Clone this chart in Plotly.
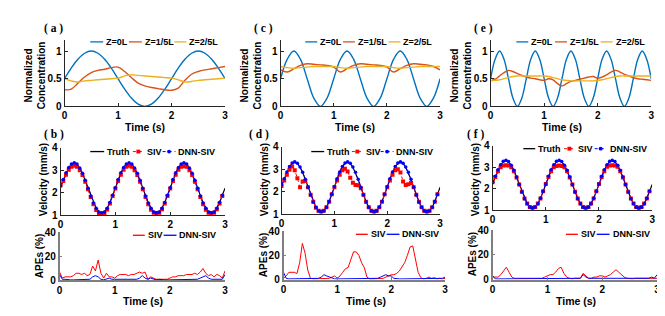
import plotly.graph_objects as go

W, H = 665, 316

# ---------------- data ----------------
# concentration panels
t_a = [round(i * 0.125, 4) for i in range(25)]
a_z0 = [0.5, 0.69, 0.85, 0.96, 1.0, 0.96, 0.85, 0.69, 0.5, 0.31, 0.15, 0.04, 0.0, 0.04, 0.15, 0.31,
        0.5, 0.69, 0.85, 0.96, 1.0, 0.96, 0.85, 0.69, 0.5]
a_z1 = [0.30, 0.31, 0.42, 0.53, 0.61, 0.65, 0.67, 0.70, 0.71, 0.63, 0.52, 0.42, 0.37, 0.34, 0.32, 0.30,
        0.29, 0.33, 0.47, 0.58, 0.63, 0.66, 0.68, 0.70, 0.72]
a_z2 = [0.50, 0.46, 0.44, 0.46, 0.47, 0.48, 0.49, 0.50, 0.51, 0.55, 0.57, 0.56, 0.55, 0.54, 0.53, 0.52,
        0.51, 0.48, 0.44, 0.45, 0.47, 0.48, 0.49, 0.50, 0.51]

t_c = [round(i * 0.125, 4) for i in range(25)]
c_z0 = [0.5, 0.85, 1.0, 0.85, 0.5, 0.15, 0.0, 0.15, 0.5, 0.85, 1.0, 0.85, 0.5, 0.15, 0.0, 0.15,
        0.5, 0.85, 1.0, 0.85, 0.5, 0.15, 0.0, 0.15, 0.5]
c_z1 = [0.66, 0.62, 0.68, 0.74, 0.77, 0.76, 0.75, 0.74, 0.71, 0.62, 0.68, 0.74, 0.77, 0.76, 0.75, 0.74,
        0.71, 0.62, 0.68, 0.74, 0.77, 0.76, 0.75, 0.72, 0.66]
c_z2 = [0.72, 0.70, 0.69, 0.70, 0.71, 0.72, 0.72, 0.72, 0.72, 0.70, 0.69, 0.70, 0.71, 0.72, 0.72, 0.72,
        0.72, 0.70, 0.69, 0.70, 0.71, 0.72, 0.72, 0.72, 0.72]

t_e = [round(i / 12, 4) for i in range(37)]
e_z0 = [0.5, 0.85, 1.0, 0.85, 0.5, 0.15, 0.0, 0.15, 0.5, 0.85, 1.0, 0.85, 0.5, 0.15, 0.0, 0.15,
        0.5, 0.85, 1.0, 0.85, 0.5, 0.15, 0.0, 0.15, 0.5, 0.85, 1.0, 0.85, 0.5, 0.15, 0.0, 0.15,
        0.5, 0.85, 1.0, 0.85, 0.5]
e_z1 = [0.51, 0.49, 0.55, 0.61, 0.65, 0.63, 0.59, 0.56, 0.53, 0.51, 0.50, 0.48, 0.47, 0.50, 0.48, 0.41,
        0.37, 0.41, 0.45, 0.47, 0.49, 0.51, 0.53, 0.54, 0.51, 0.53, 0.57, 0.62, 0.65, 0.62, 0.58, 0.55,
        0.52, 0.50, 0.49, 0.48, 0.47]
e_z2 = [0.46, 0.47, 0.48, 0.50, 0.52, 0.54, 0.55, 0.55, 0.55, 0.55, 0.55, 0.55, 0.55, 0.54, 0.52, 0.50,
        0.48, 0.47, 0.46, 0.46, 0.46, 0.46, 0.46, 0.46, 0.47, 0.48, 0.50, 0.52, 0.54, 0.55, 0.55, 0.55,
        0.55, 0.55, 0.55, 0.55, 0.55]

# velocity panels
t_v = [round(i * 0.05, 4) for i in range(61)]
truth = [2.25, 2.56, 2.86, 3.10, 3.25, 3.30, 3.25, 3.09, 2.85, 2.54, 2.20, 1.86, 1.55, 1.31, 1.15, 1.10, 1.15, 1.31, 1.55, 1.88,
         2.22, 2.56, 2.86, 3.10, 3.25, 3.30, 3.25, 3.09, 2.85, 2.54, 2.20, 1.86, 1.55, 1.31, 1.15, 1.10, 1.15, 1.31, 1.55, 1.88,
         2.22, 2.56, 2.86, 3.10, 3.25, 3.30, 3.25, 3.09, 2.85, 2.54, 2.20, 1.86, 1.55, 1.31, 1.15, 1.10, 1.15, 1.31, 1.55, 1.88,
         2.20]
b_siv = [2.33, 2.52, 2.80, 3.02, 3.15, 3.20, 3.15, 3.00, 2.78, 2.48, 2.15, 1.80, 1.48, 1.22, 1.05, 1.00, 1.08, 1.25, 1.52, 1.85,
         2.18, 2.52, 2.80, 3.02, 3.15, 3.20, 3.15, 3.00, 2.78, 2.48, 2.15, 1.80, 1.48, 1.24, 1.10, 1.08, 1.10, 1.26, 1.52, 1.85,
         2.18, 2.52, 2.80, 3.02, 3.15, 3.18, 3.15, 3.00, 2.78, 2.48, 2.15, 1.80, 1.48, 1.24, 1.10, 1.08, 1.10, 1.26, 1.52, 1.85]
b_dnn = [2.30, 2.58, 2.88, 3.12, 3.28, 3.33, 3.27, 3.10, 2.86, 2.55, 2.20, 1.85, 1.54, 1.30, 1.14, 1.10, 1.14, 1.30, 1.56, 1.88,
         2.22, 2.58, 2.88, 3.12, 3.28, 3.33, 3.27, 3.10, 2.86, 2.55, 2.20, 1.85, 1.54, 1.30, 1.14, 1.10, 1.14, 1.30, 1.56, 1.88,
         2.22, 2.58, 2.88, 3.12, 3.28, 3.33, 3.27, 3.10, 2.86, 2.55, 2.20, 1.85, 1.54, 1.30, 1.14, 1.10, 1.14, 1.30, 1.56, 1.88]
d_siv = [2.25, 2.50, 2.75, 2.98, 3.12, 2.95, 2.60, 2.20, 2.45, 2.48, 2.20, 1.86, 1.55, 1.28, 1.15, 1.12, 1.15, 1.31, 1.55, 1.88,
         2.20, 2.50, 2.75, 2.95, 3.02, 2.90, 2.62, 2.40, 2.30, 2.28, 2.15, 1.86, 1.55, 1.31, 1.15, 1.12, 1.15, 1.31, 1.55, 1.88,
         2.20, 2.50, 2.75, 2.95, 3.00, 2.85, 2.45, 2.30, 2.33, 2.38, 2.20, 1.86, 1.55, 1.31, 1.15, 1.12, 1.15, 1.31, 1.55, 1.88]
d_dnn = [2.30, 2.58, 2.88, 3.12, 3.28, 3.33, 3.27, 3.10, 2.86, 2.55, 2.20, 1.85, 1.54, 1.30, 1.14, 1.10, 1.14, 1.30, 1.56, 1.88,
         2.22, 2.58, 2.88, 3.12, 3.28, 3.33, 3.27, 3.10, 2.86, 2.55, 2.20, 1.85, 1.54, 1.30, 1.14, 1.10, 1.14, 1.30, 1.56, 1.88,
         2.22, 2.58, 2.88, 3.12, 3.28, 3.33, 3.27, 3.10, 2.86, 2.55, 2.20, 1.85, 1.54, 1.30, 1.14, 1.10, 1.14, 1.30, 1.56, 1.88]
f_siv = [2.30, 2.55, 2.82, 3.00, 3.08, 3.10, 3.08, 3.00, 2.82, 2.52, 2.20, 1.86, 1.55, 1.31, 1.15, 1.12, 1.15, 1.31, 1.55, 1.88,
         2.22, 2.55, 2.82, 3.00, 3.06, 3.08, 3.06, 3.00, 2.82, 2.52, 2.20, 1.86, 1.55, 1.31, 1.15, 1.12, 1.15, 1.31, 1.55, 1.88,
         2.22, 2.55, 2.82, 3.02, 3.08, 3.10, 3.08, 3.02, 2.82, 2.52, 2.20, 1.86, 1.55, 1.31, 1.15, 1.12, 1.15, 1.31, 1.55, 1.88]
f_dnn = [2.30, 2.58, 2.88, 3.12, 3.28, 3.33, 3.27, 3.10, 2.86, 2.55, 2.20, 1.85, 1.54, 1.30, 1.14, 1.10, 1.14, 1.30, 1.56, 1.88,
         2.22, 2.58, 2.88, 3.12, 3.28, 3.33, 3.27, 3.10, 2.86, 2.55, 2.20, 1.85, 1.54, 1.30, 1.14, 1.10, 1.14, 1.30, 1.56, 1.88,
         2.22, 2.58, 2.88, 3.12, 3.28, 3.33, 3.27, 3.10, 2.86, 2.55, 2.20, 1.85, 1.54, 1.30, 1.14, 1.10, 1.14, 1.30, 1.56, 1.88]

# APE panels (%)
t_p = [round(i * 0.05, 4) for i in range(61)]
b_ape_siv = [7, 2, 3, 3, 3, 4, 6, 6, 5, 6, 4, 5, 12, 8, 17, 6, 2, 6, 3, 3,
             2, 4, 5, 5, 5, 4, 5, 5, 6, 7, 6, 7, 1, 3, 2, 1, 1, 1, 1, 1,
             2, 3, 3, 4, 4, 4, 5, 5, 5, 6, 5, 7, 10, 6, 4, 5, 3, 5, 4, 2, 8]
b_ape_dnn = [5, 1, 1, 0.5, 0.5, 0.5, 0.5, 1, 1, 0.5, 1, 1, 3, 4, 3, 1, 0.5, 1, 2, 1,
             1, 1, 0.5, 0.5, 0.5, 0.5, 1, 1, 1, 2, 4, 2, 1, 2, 1, 0.5, 1, 0.5, 0.5, 0.5,
             0.5, 0.5, 0.5, 0.5, 0.5, 0.5, 0.5, 0.5, 0.5, 1, 1, 2, 3, 4, 2, 1, 1, 1, 1, 1, 5]
d_ape_siv = [1, 3, 6, 6, 6, 5, 14, 30, 22, 8, 1, 0.5, 0.5, 1, 0.5, 0.5, 0.5, 1, 2, 3,
             1, 3, 6, 9, 10, 17, 23, 23, 20, 14, 10, 2, 0.5, 0.5, 0.5, 1, 0.5, 1, 2, 3,
             4, 4, 5, 7, 10, 14, 20, 27, 28, 18, 6, 1.5, 0.5, 1, 2, 1, 1.5, 0.5, 1, 0.5, 1]
d_ape_dnn = [6, 1, 0.5, 0.5, 0.5, 0.5, 0.5, 0.5, 1, 0.5, 0.5, 0.5, 0.5, 1, 2, 4, 3, 2, 1, 0.5,
             0.5, 0.5, 0.5, 0.5, 0.5, 0.5, 0.5, 0.5, 0.5, 0.5, 0.5, 0.5, 0.5, 0.5, 1, 1, 2, 3, 4, 3,
             3, 1, 0.5, 0.5, 0.5, 0.5, 0.5, 0.5, 0.5, 0.5, 0.5, 0.5, 1, 1, 0.5, 0.5, 1, 1, 0.5, 1, 2]
f_ape_siv = [2, 2, 2, 4, 7, 10, 6, 2, 1, 1, 1, 0.5, 1, 1, 1, 1, 0.5, 1, 1, 2,
             3, 4, 4, 6, 9, 10, 5, 2, 1, 0.5, 1, 1, 1, 5, 3, 1, 1, 2, 2, 3,
             3, 2, 3, 4, 6, 8, 6, 4, 2, 1, 0.5, 0.5, 1, 1, 0.5, 0.5, 1, 1, 1, 1, 1]
f_ape_dnn = [3, 0.5, 0.5, 0.5, 0.5, 0.5, 0.5, 0.5, 0.5, 0.5, 0.5, 0.5, 0.5, 0.5, 0.5, 0.5, 1, 0.5, 0.5, 0.5,
             0.5, 0.5, 0.5, 0.5, 0.5, 0.5, 0.5, 0.5, 0.5, 0.5, 1, 1, 1, 4, 2, 1, 1, 0.5, 0.5, 0.5,
             0.5, 0.5, 0.5, 0.5, 0.5, 0.5, 0.5, 0.5, 0.5, 0.5, 0.5, 0.5, 0.5, 0.5, 0.5, 1, 1, 1, 2, 1, 4]

conc_names = ["Z=0L", "Z=1/5L", "Z=2/5L"]
vel_names = ["Truth", "SIV", "DNN-SIV"]
ape_names = ["SIV", "DNN-SIV"]
panel_labels = ["( a )", "( c )", "( e )", "( b )", "( d )", "( f )"]

# ---------------- styling ----------------
C_BLUE, C_ORANGE, C_YELLOW = "#0072BD", "#D95319", "#EDB120"
FONT = "Liberation Sans"


def X(px):
    return px / W


def Y(py):
    return 1 - py / H


fig = go.Figure()


def ref(i):
    return ("x", "y") if i == 1 else (f"x{i}", f"y{i}")


# concentration
conc_sets = [(t_a, [a_z0, a_z1, a_z2]), (t_c, [c_z0, c_z1, c_z2]), (t_e, [e_z0, e_z1, e_z2])]
for k, (tt, series) in enumerate(conc_sets):
    xr, yr = ref(k + 1)
    for name, vals, col in zip(conc_names, series, [C_BLUE, C_ORANGE, C_YELLOW]):
        fig.add_trace(go.Scatter(x=tt, y=vals, name=name, mode="lines", xaxis=xr, yaxis=yr,
                                 line=dict(color=col, width=1.4, shape="spline", smoothing=1.0),
                                 showlegend=False))

# velocity
vel_sets = [(b_siv, b_dnn), (d_siv, d_dnn), (f_siv, f_dnn)]
for k, (siv, dnn) in enumerate(vel_sets):
    xr, yr = ref(k + 4)
    fig.add_trace(go.Scatter(x=t_v, y=truth, name="Truth", mode="lines", xaxis=xr, yaxis=yr,
                             line=dict(color="black", width=1.2), showlegend=False))
    fig.add_trace(go.Scatter(x=t_v[:60], y=siv, name="SIV", mode="lines+markers", xaxis=xr, yaxis=yr,
                             line=dict(color="#FF0000", width=1, dash="dot"),
                             marker=dict(symbol="square", size=4, color="#FF0000"), showlegend=False))
    fig.add_trace(go.Scatter(x=t_v[:60], y=dnn, name="DNN-SIV", mode="lines+markers", xaxis=xr, yaxis=yr,
                             line=dict(color="#0000FF", width=1, dash="dot"),
                             marker=dict(symbol="circle", size=3.5, color="#0000FF"), showlegend=False))

# APE
ape_sets = [(b_ape_siv, b_ape_dnn), (d_ape_siv, d_ape_dnn), (f_ape_siv, f_ape_dnn)]
for k, (siv, dnn) in enumerate(ape_sets):
    xr, yr = ref(k + 7)
    fig.add_trace(go.Scatter(x=t_p, y=siv, name="SIV", mode="lines", xaxis=xr, yaxis=yr,
                             line=dict(color="#FF0000", width=1), showlegend=False))
    fig.add_trace(go.Scatter(x=t_p, y=dnn, name="DNN-SIV", mode="lines", xaxis=xr, yaxis=yr,
                             line=dict(color="#0000FF", width=1), showlegend=False))

# axes domains in pixels: (left, right, top, bottom)
panels = [
    ((54, 216, 27, 96), [0, 1.2], [0, 0.5, 1], ["0", "0.5", "1"], "#262626", 1),
    ((272, 433, 27, 96), [0, 1.2], [0, 0.5, 1], ["0", "0.5", "1"], "#262626", 1),
    ((484, 646, 27, 96), [0, 1.2], [0, 0.5, 1], ["0", "0.5", "1"], "#262626", 1),
    ((50, 216, 139, 209), [1, 4], [1, 2, 3, 4], ["1", "2", "3", "4"], "#262626", 1),
    ((273, 433, 138, 208), [1, 4], [1, 2, 3, 4], ["1", "2", "3", "4"], "#262626", 1),
    ((486, 647, 137, 204), [1, 4], [1, 2, 3, 4], ["1", "2", "3", "4"], "#262626", 1),
    ((49, 216, 227, 277), [0, 40], [0, 20, 40], ["0", "20", "40"], "#7f7f7f", 1.6),
    ((275, 438, 226, 276), [0, 40], [0, 20, 40], ["0", "20", "40"], "#7f7f7f", 1.6),
    ((486, 652, 225, 276), [0, 40], [0, 20, 40], ["0", "20", "40"], "#7f7f7f", 1.6),
]
tickfont = dict(family=FONT, size=10, color="black", weight="bold")
for i, ((l, r, t, b), yrng, yt, ytt, lc, lw) in enumerate(panels, start=1):
    xr, yr = ref(i)
    common = dict(showline=True, linecolor=lc, linewidth=lw, ticks="inside", ticklen=3,
                  tickcolor=lc, showgrid=False, zeroline=False, tickfont=tickfont, fixedrange=True)
    fig.layout[("xaxis" if i == 1 else f"xaxis{i}")] = dict(
        domain=[X(l), X(r)], range=[0, 3], tickvals=[0, 1, 2, 3], anchor=yr, **common)
    fig.layout[("yaxis" if i == 1 else f"yaxis{i}")] = dict(
        domain=[Y(b), Y(t)], range=yrng, tickvals=yt, ticktext=ytt, anchor=xr, **common)

ann = []
shapes = []


def text(x, y, s, size=10, angle=0, anchor="center", family=FONT):
    ann.append(dict(x=X(x), y=Y(y), xref="paper", yref="paper", text=f"<b>{s}</b>",
                    showarrow=False, textangle=angle, xanchor=anchor, yanchor="middle",
                    borderpad=0, font=dict(family=family, size=size, color="black")))


# axis titles
for axl in (54, 272, 484):
    text(axl - 30, 64, "Normalized<br>Concentration", size=10, angle=-90)
for cx in (135, 347, 556):
    text(cx, 117, "Time (s)", size=10.5)
for axl in (50, 273, 486):
    text(axl - 17, 172, "Velocity (mm/s)", size=10, angle=-90)
for axl, cy in ((49, 252), (275, 251), (486, 250)):
    text(axl - 20, cy, "APEs (%)", size=10, angle=-90)
for cx in (133, 358, 570):
    text(cx, 298, "Time (s)", size=10.5)

# panel labels
for (cx, cy), lab in zip([(43, 15), (255, 15), (477, 15), (43, 125), (250, 125), (469, 125)], panel_labels):
    text(cx, cy, lab, size=11.5, family="Liberation Serif")


# manual legends
def leg_line(x0, x1, y, color, dash="solid", marker=None):
    shapes.append(dict(type="line", xref="paper", yref="paper", x0=X(x0), x1=X(x1), y0=Y(y), y1=Y(y),
                       line=dict(color=color, width=1.3 if dash == "solid" else 1, dash=dash)))
    if marker:
        cx = (x0 + x1) / 2
        s = 2
        shapes.append(dict(type="rect" if marker == "square" else "circle", xref="paper", yref="paper",
                           x0=X(cx - s), x1=X(cx + s), y0=Y(y - s), y1=Y(y + s),
                           fillcolor=color, line=dict(width=0)))


LS = 9
conc_leg = [
    [(80, 93, 95), (119, 132, 134), (165, 177, 179)],
    [(297, 309, 311), (335, 347, 349), (381, 393, 395)],
    [(510, 522, 524), (549, 561, 563), (595, 607, 609)],
]
for items in conc_leg:
    for (x0, x1, tx), name, col in zip(items, conc_names, [C_BLUE, C_ORANGE, C_YELLOW]):
        leg_line(x0, x1, 29, col)
        text(tx, 29, name, size=LS, anchor="left")

vel_leg = [
    (143, [(80, 94, 96), (123, 134, 136), (153, 166, 168)]),
    (143, [(303, 316, 318), (344, 355, 357), (373, 386, 388)]),
    (140, [(517, 529, 531), (558, 569, 571), (589, 601, 603)]),
]
for y, items in vel_leg:
    for (x0, x1, tx), name, col, dash, mk in zip(items, vel_names, ["black", "#FF0000", "#0000FF"],
                                                 ["solid", "dot", "dot"], [None, "square", "circle"]):
        leg_line(x0, x1, y, col, dash, mk)
        text(tx, y, name, size=LS, anchor="left")

ape_leg = [
    (230, [(123, 135, 137), (154, 167, 169)]),
    (229, [(348, 360, 362), (379, 392, 394)]),
    (229, [(560, 572, 574), (591, 604, 606)]),
]
for y, items in ape_leg:
    for (x0, x1, tx), name, col in zip(items, ape_names, ["#FF0000", "#0000FF"]):
        leg_line(x0, x1, y, col)
        text(tx, y, name, size=LS, anchor="left")

fig.update_layout(width=W, height=H, margin=dict(l=0, r=0, t=0, b=0),
                  paper_bgcolor="white", plot_bgcolor="white", showlegend=False,
                  annotations=ann, shapes=shapes)

fig.write_html("out.html")
